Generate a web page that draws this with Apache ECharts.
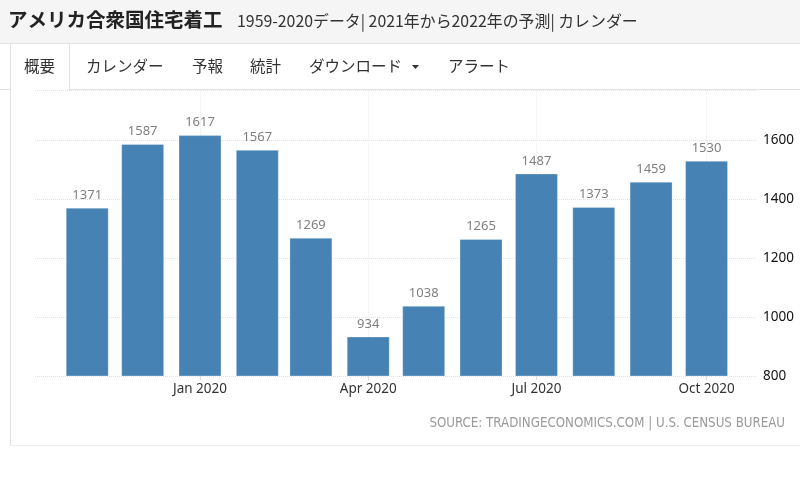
<!DOCTYPE html>
<html>
<head>
<meta charset="utf-8">
<script src="https://cdn.jsdelivr.net/npm/echarts@6/dist/echarts.min.js"></script>
<style>
html,body{margin:0;padding:0;background:#fff;}
#chart{width:800px;height:483px;}
</style>
</head>
<body>
<div id="chart"></div>
<script>
// ---- data ----
var months = ['2019-11','2019-12','2020-01','2020-02','2020-03','2020-04','2020-05','2020-06','2020-07','2020-08','2020-09','2020-10'];
var starts = [1371, 1587, 1617, 1567, 1269, 934, 1038, 1265, 1487, 1373, 1459, 1530];
var tickMonths = ['2020-01','2020-04','2020-07','2020-10'];
var yTicks = [800, 1000, 1200, 1400, 1600];
var monthNames = ['Jan','Feb','Mar','Apr','May','Jun','Jul','Aug','Sep','Oct','Nov','Dec'];
var titleText = 'アメリカ合衆国住宅着工';
var subtitleText = '1959-2020データ| 2021年から2022年の予測| カレンダー';
var tabs = ['概要','カレンダー','予報','統計','ダウンロード','アラート'];
var sourceText = 'SOURCE: TRADINGECONOMICS.COM | U.S. CENSUS BUREAU';

function ts(m){ var p = m.split('-'); return Date.UTC(+p[0], +p[1]-1, 1); }
var seriesData = months.map(function(m,i){ return [ts(m), starts[i]]; });
var tickValues = tickMonths.map(ts);

var chart = echarts.init(document.getElementById('chart'), null, {renderer:'canvas'});
var lineColor = '#e3e3e3';
var tabX = [24, 86, 192, 250, 309, 448];

var graphics = [
  {type:'rect', shape:{x:0,y:0,width:800,height:43}, style:{fill:'#f5f5f5'}, silent:true, z:-10},
  {type:'line', shape:{x1:0,y1:43.5,x2:800,y2:43.5}, style:{stroke:lineColor,lineWidth:1}, silent:true},
  {type:'line', shape:{x1:0,y1:89.5,x2:10,y2:89.5}, style:{stroke:lineColor,lineWidth:1}, silent:true},
  {type:'line', shape:{x1:69,y1:89.5,x2:800,y2:89.5}, style:{stroke:lineColor,lineWidth:1}, silent:true},
  {type:'line', shape:{x1:10.5,y1:43,x2:10.5,y2:446}, style:{stroke:lineColor,lineWidth:1}, silent:true},
  {type:'line', shape:{x1:69.5,y1:43,x2:69.5,y2:90}, style:{stroke:lineColor,lineWidth:1}, silent:true},
  {type:'line', shape:{x1:10,y1:445.5,x2:800,y2:445.5}, style:{stroke:'#ececec',lineWidth:1}, silent:true},
  {type:'text', x:8, y:20, style:{text:titleText, fill:'#222', font:'bold 19.5px "Noto Sans CJK JP", sans-serif', textVerticalAlign:'middle'}},
  {type:'text', x:237, y:21, style:{text:subtitleText, fill:'#333', font:'15.9px "Liberation Sans Narrow", "Noto Sans CJK JP", sans-serif', textVerticalAlign:'middle'}},
  {type:'text', x:785, y:424, style:{text:sourceText, fill:'#9a9a9a', font:'13.2px "Liberation Sans Narrow", "DejaVu Sans Condensed", sans-serif', textAlign:'right', textVerticalAlign:'middle'}}
];
tabs.forEach(function(t,i){
  graphics.push({type:'text', x:tabX[i], y:66, style:{text:t, fill:'#333', font:'15.5px "Noto Sans CJK JP", sans-serif', textVerticalAlign:'middle'}});
});
graphics.push({type:'polygon', shape:{points:[[412,65],[419,65],[415.5,69]]}, style:{fill:'#333'}});

var option = {
  animation:false,
  backgroundColor:'#fff',
  graphic: graphics,
  grid:{left:35, right:43, top:90, bottom:107, containLabel:false},
  xAxis:{
    type:'value',
    min: Date.UTC(2019,9,3,18),
    max: Date.UTC(2020,9,28,7),
    axisLine:{show:false},
    axisTick:{show:true, length:4, lineStyle:{color:'#dcdcdc'}, customValues: tickValues},
    axisLabel:{
      customValues: tickValues,
      color:'#333', fontSize:13.5, fontFamily:'"Noto Sans", sans-serif', margin:6,
      formatter:function(v){ var d=new Date(v); return monthNames[d.getUTCMonth()]+' '+d.getUTCFullYear(); }
    },
    splitLine:{show:true, lineStyle:{color:'#ececec', type:'dotted'}}
  },
  yAxis:{
    type:'value', position:'right', min:800, max:1770, interval:200,
    axisLine:{show:false}, axisTick:{show:false},
    axisLabel:{color:'#111', fontSize:13.5, fontFamily:'"Noto Sans", sans-serif', margin:6,
      formatter:function(v){ return yTicks.indexOf(v) >= 0 ? String(v) : ''; }},
    splitLine:{show:true, lineStyle:{color:'#e2e2e2', type:'dotted'}}
  },
  series:[{
    type:'bar',
    data: seriesData,
    barWidth:43,
    itemStyle:{color:'#4682b4', borderColor:'rgba(255,255,255,0.3)', borderWidth:1},
    label:{show:true, position:'top', distance:6, color:'#7f7f7f', fontSize:13, fontFamily:'"Noto Sans", sans-serif',
      formatter:function(p){ return p.value[1]; }}
  }]
};
chart.setOption(option);
</script>
</body>
</html>
